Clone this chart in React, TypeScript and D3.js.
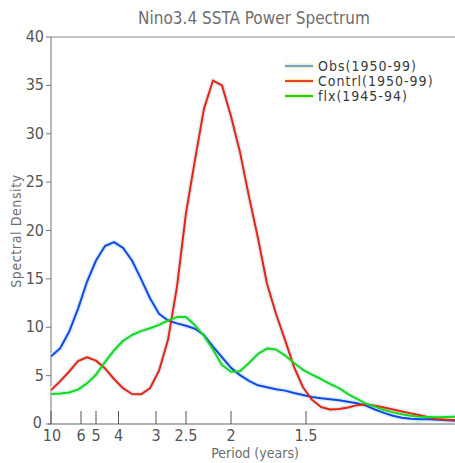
import React, { useRef, useEffect } from 'react';
import * as d3 from 'd3';

// frequency grid (cycles / year), 0.1 .. 1.0
const freqs = d3.range(0, 46).map(i => +(0.1 + i * 0.02).toFixed(2));

const obs = [
  7.0, 7.8, 9.5, 11.9, 14.7, 16.9, 18.4, 18.8, 18.2, 16.9,
  15.0, 13.0, 11.4, 10.7, 10.4, 10.15, 9.85, 9.2, 8.0, 6.9,
  5.8, 5.05, 4.45, 4.0, 3.8, 3.6, 3.45, 3.2, 3.0, 2.8,
  2.65, 2.55, 2.45, 2.3, 2.15, 1.9, 1.5, 1.15, 0.85, 0.65,
  0.55, 0.5, 0.48, 0.44, 0.38, 0.32,
];

const contrl = [
  3.5, 4.4, 5.4, 6.5, 6.9, 6.55, 5.75, 4.65, 3.7, 3.1,
  3.07, 3.7, 5.5, 8.7, 14.2, 21.8, 27.3, 32.6, 35.5, 35.0,
  31.8, 28.1, 23.5, 19.2, 14.5, 11.4, 8.7, 5.9, 3.8, 2.5,
  1.75, 1.5, 1.55, 1.7, 1.95, 2.05, 1.9, 1.7, 1.5, 1.3,
  1.1, 0.9, 0.68, 0.52, 0.45, 0.4,
];

const flx = [
  3.1, 3.15, 3.25, 3.55, 4.2, 5.1, 6.4, 7.6, 8.6, 9.2,
  9.6, 9.9, 10.25, 10.7, 11.05, 11.05, 10.2, 9.1, 7.7, 6.1,
  5.4, 5.45, 6.3, 7.25, 7.8, 7.7, 7.1, 6.3, 5.6, 5.1,
  4.65, 4.15, 3.7, 3.1, 2.6, 2.1, 1.8, 1.45, 1.2, 1.0,
  0.85, 0.75, 0.72, 0.7, 0.72, 0.75,
];

const periodTicks = [10, 6, 5, 4, 3, 2.5, 2, 1.5];
const yTicks = [0, 5, 10, 15, 20, 25, 30, 35, 40];

const seriesNames = ['Obs(1950-99)', 'Contrl(1950-99)', 'flx(1945-94)'];
const lineColors = ['#1447e6', '#f02010', '#12dc12'];
const legendColors = ['#6f9fe0', '#e8412c', '#18d418'];

const width = 455;
const height = 463;
const left = 51, right = 456, top = 37, bottom = 424;
const font = "'DejaVu Sans Condensed', 'Liberation Sans Narrow', sans-serif";
const grey = '#6e6e6e';

const App = () => {
  const svgRef = useRef<SVGSVGElement>(null);

  useEffect(() => {
    const svg = d3.select(svgRef.current)
      .attr('width', width)
      .attr('height', height);
    svg.selectAll('*').remove();

    const x = d3.scaleLinear().domain([0.1, 1.0]).range([left, right]);
    const y = d3.scaleLinear().domain([0, 40]).range([bottom, top]);

    svg.append('rect').attr('width', width).attr('height', height).attr('fill', '#fff');

    // title
    svg.append('text')
      .attr('x', 254).attr('y', 24)
      .attr('text-anchor', 'middle')
      .attr('font-family', font).attr('font-size', 17)
      .attr('fill', grey)
      .text('Nino3.4 SSTA Power Spectrum');

    // frame
    svg.append('line').attr('x1', left).attr('x2', width).attr('y1', top).attr('y2', top)
      .attr('stroke', '#888').attr('stroke-width', 1.2);
    svg.append('line').attr('x1', left).attr('x2', left).attr('y1', top).attr('y2', bottom)
      .attr('stroke', '#888').attr('stroke-width', 1.2);
    svg.append('line').attr('x1', left - 3).attr('x2', width).attr('y1', bottom).attr('y2', bottom)
      .attr('stroke', '#666').attr('stroke-width', 1.2);

    // y ticks
    const yg = svg.append('g');
    yg.selectAll('line').data(yTicks).enter().append('line')
      .attr('x1', left - 5).attr('x2', left)
      .attr('y1', d => y(d)).attr('y2', d => y(d))
      .attr('stroke', '#777');
    yg.selectAll('text').data(yTicks).enter().append('text')
      .attr('x', d => (d === 0 ? left - 9 : left - 7))
      .attr('y', d => y(d) + (d === 0 ? 4 : 5))
      .attr('text-anchor', 'end')
      .attr('font-family', font).attr('font-size', 16)
      .attr('fill', '#555')
      .text(d => d);

    // x ticks (period labels at 1/period)
    const xg = svg.append('g');
    xg.selectAll('line').data(periodTicks).enter().append('line')
      .attr('x1', d => x(1 / d)).attr('x2', d => x(1 / d))
      .attr('y1', bottom).attr('y2', bottom - 13)
      .attr('stroke', '#555');
    xg.selectAll('text').data(periodTicks).enter().append('text')
      .attr('x', d => x(1 / d) + (d === 10 ? 1 : 0))
      .attr('y', bottom + 17)
      .attr('text-anchor', 'middle')
      .attr('font-family', font).attr('font-size', 16)
      .attr('fill', '#555')
      .text(d => d);

    svg.append('text')
      .attr('x', 255).attr('y', 458)
      .attr('text-anchor', 'middle')
      .attr('font-family', font).attr('font-size', 14)
      .attr('fill', grey)
      .text('Period (years)');

    svg.append('text')
      .attr('transform', 'translate(21,231) rotate(-90)')
      .attr('text-anchor', 'middle')
      .attr('font-family', font).attr('font-size', 14)
      .attr('fill', grey)
      .attr('letter-spacing', 0.6)
      .text('Spectral Density');

    // curves
    const line = d3.line<number>()
      .x((d, i) => x(freqs[i]))
      .y(d => y(d));

    const plot = svg.append('g');
    [obs, contrl, flx].forEach(vals => {
      plot.append('path')
        .attr('d', line(vals))
        .attr('fill', 'none')
        .attr('stroke', '#d9eef2')
        .attr('stroke-width', 5)
        .attr('stroke-linejoin', 'round');
    });
    [obs, contrl, flx].forEach((vals, k) => {
      plot.append('path')
        .attr('d', line(vals))
        .attr('fill', 'none')
        .attr('stroke', lineColors[k])
        .attr('stroke-width', 2)
        .attr('stroke-linejoin', 'round');
    });

    // legend
    const lg = svg.append('g').attr('transform', 'translate(285,66)');
    seriesNames.forEach((name, k) => {
      const row = lg.append('g').attr('transform', `translate(0,${k * 15})`);
      row.append('line').attr('x1', 0).attr('x2', 28).attr('y1', 0).attr('y2', 0)
        .attr('stroke', '#f3efb8').attr('stroke-width', 5);
      row.append('line').attr('x1', 0).attr('x2', 28).attr('y1', 0).attr('y2', 0)
        .attr('stroke', legendColors[k]).attr('stroke-width', 2);
      row.append('text')
        .attr('x', 33).attr('y', 5)
        .attr('font-family', font).attr('font-size', 14)
        .attr('letter-spacing', 1)
        .attr('fill', '#3a3a3a')
        .text(name);
    });
  }, []);

  return (
    <svg ref={svgRef} style={{ position: 'absolute', left: 0, top: 0 }}></svg>
  );
};

export default App;
